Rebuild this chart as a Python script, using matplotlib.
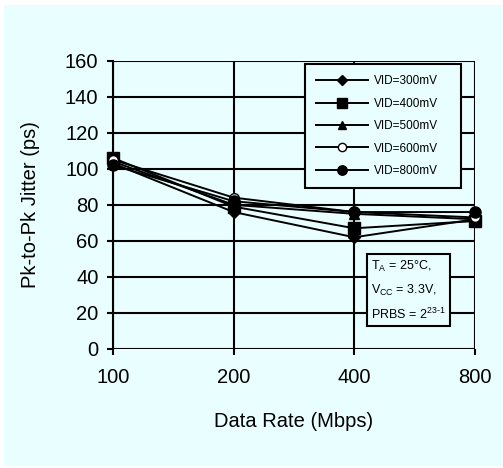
import numpy as np
import matplotlib
matplotlib.use("Agg")
import matplotlib.pyplot as plt
from matplotlib.patches import Rectangle

plt.rcParams['font.family'] = ['Liberation Sans', 'DejaVu Sans']
plt.rcParams['mathtext.fontset'] = 'custom'
plt.rcParams['mathtext.rm'] = 'Liberation Sans'

rates = ['100', '200', '400', '800']
vid_300 = [103, 76, 62, 72]
vid_400 = [106, 79, 67, 71]
vid_500 = [104, 80, 75, 72]
vid_600 = [105, 84, 76, 73]
vid_800 = [102, 82, 76, 76]

bg = '#E9FEFE'
fig = plt.figure(figsize=(5.03, 4.68), dpi=100)
fig.patch.set_facecolor('white')
fig.patches.append(Rectangle((4/503, 2/468), 499/503, 461/468, transform=fig.transFigure,
                             facecolor=bg, edgecolor='none', zorder=-10))

ax = fig.add_axes([0.2247, 0.2543, 0.7196, 0.616])
ax.set_facecolor(bg)
x = np.arange(len(rates))

series = [
    ('VID=300mV', vid_300, dict(marker='D', markersize=6, markerfacecolor='black')),
    ('VID=400mV', vid_400, dict(marker='s', markersize=8, markerfacecolor='black')),
    ('VID=500mV', vid_500, dict(marker='^', markersize=7, markerfacecolor='black')),
    ('VID=600mV', vid_600, dict(marker='o', markersize=7, markerfacecolor='white')),
    ('VID=800mV', vid_800, dict(marker='o', markersize=8, markerfacecolor='black')),
]
for name, vals, style in series:
    ax.plot(x, vals, color='black', linewidth=1.4, markeredgecolor='black',
            label=name, clip_on=False, zorder=3, **style)

ax.set_xlim(0, 3)
ax.set_ylim(0, 160)
ax.set_xticks(x)
ax.set_xticklabels(rates)
ax.set_yticks(np.arange(0, 161, 20))
ax.grid(True, color='black', linewidth=1.5)
ax.set_axisbelow(True)
for s in ax.spines.values():
    s.set_visible(False)
ax.spines['left'].set_visible(True)
ax.spines['left'].set_linewidth(1.5)
ax.tick_params(axis='both', direction='out', length=4.5, width=1.5, labelsize=14.5, colors='black')
ax.tick_params(axis='x', pad=9)
ax.tick_params(axis='y', pad=6)
ax.set_xlabel('Data Rate (Mbps)', fontsize=14.5, labelpad=18)
ax.set_ylabel('Pk-to-Pk Jitter (ps)', fontsize=14.5, labelpad=18)

leg = ax.legend(loc='upper left', bbox_to_anchor=(0.530, 0.576, 0.431, 0.412), mode='expand',
                borderaxespad=0, fancybox=False,
                framealpha=1, facecolor=bg, edgecolor='black', handlelength=4.4,
                labelspacing=0.88, borderpad=0.95, handletextpad=0.5, markerscale=0.85,
                prop={'family': ['Liberation Sans Narrow', 'Liberation Sans'], 'size': 8.5})
leg.get_frame().set_linewidth(1.5)

ax.text(0.7127, 0.094,
        'T$_{\\mathregular{A}}$ = 25°C,\nV$_{\\mathregular{CC}}$ = 3.3V,\nPRBS = 2$^{\\mathregular{23\\text{-}1}}$',
        transform=ax.transAxes, fontsize=9, linespacing=1.75, va='bottom', ha='left',
        bbox=dict(boxstyle='square,pad=0.35', facecolor=bg, edgecolor='black', linewidth=1.5),
        zorder=5)

fig.savefig('out.png', dpi=100)
